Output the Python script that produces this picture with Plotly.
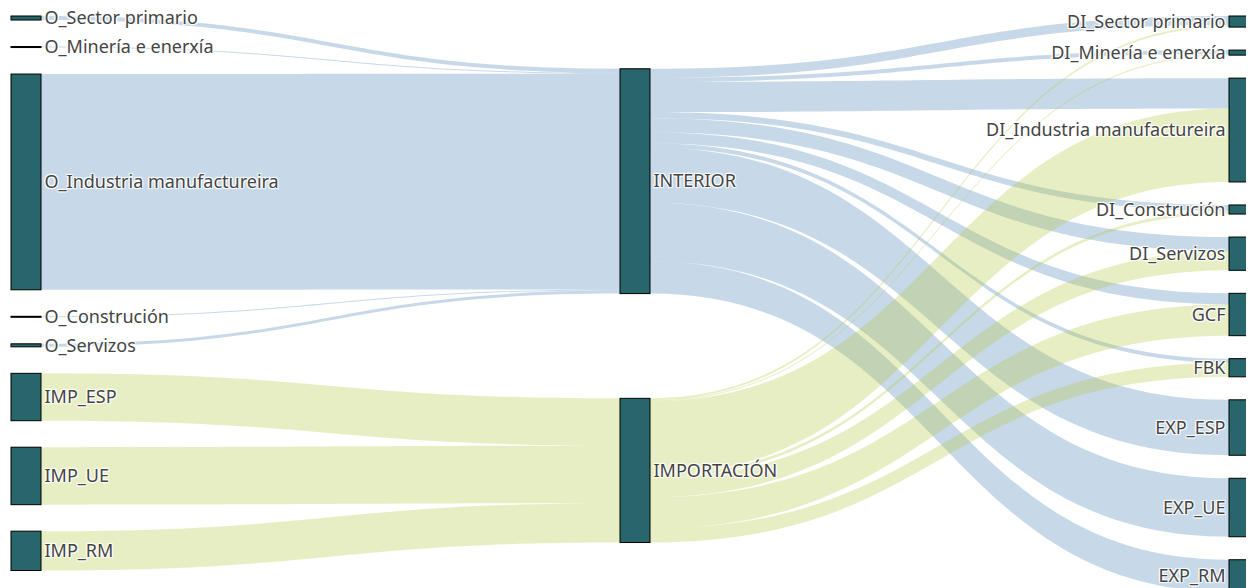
import plotly.graph_objects as go

# ---------------- data ----------------
origin_nodes = ["O_Sector primario", "O_Minería e enerxía", "O_Industria manufactureira",
                "O_Construción", "O_Servizos"]
origin_values = [4, 1, 214, 1, 3]          # -> INTERIOR

import_nodes = ["IMP_ESP", "IMP_UE", "IMP_RM"]
import_values = [47, 57, 39]               # -> IMPORTACIÓN

mid_nodes = ["INTERIOR", "IMPORTACIÓN"]

dest_nodes = ["DI_Sector primario", "DI_Minería e enerxía", "DI_Industria manufactureira",
              "DI_Construción", "DI_Servizos", "GCF", "FBK", "EXP_ESP", "EXP_UE", "EXP_RM"]
interior_values = [9, 4, 30, 6, 14, 11, 4, 55, 58, 32]
importacion_values = [2, 1, 73, 3, 19, 31, 14, 0, 0, 0]

# ---------------- style / geometry ----------------
FIG_W, FIG_H = 1261, 594
M = dict(l=3, r=10, t=8, b=10)
THICK = 30
PAD = 23
LEFT_GAP = 26.5      # vertical gap between nodes of the first column (px)
blue_link = "rgba(70,130,180,0.3)"
green_link = "rgba(180,200,60,0.3)"
node_color = "#27666b"

W = FIG_W - M["l"] - M["r"]
H = FIG_H - M["t"] - M["b"]

node_labels = origin_nodes + import_nodes + mid_nodes + dest_nodes
idx = {n: i for i, n in enumerate(node_labels)}

src, tgt, val, col = [], [], [], []
for n, v in zip(origin_nodes, origin_values):
    src.append(idx[n]); tgt.append(idx["INTERIOR"]); val.append(v); col.append(blue_link)
for n, v in zip(import_nodes, import_values):
    src.append(idx[n]); tgt.append(idx["IMPORTACIÓN"]); val.append(v); col.append(green_link)
for n, v in zip(dest_nodes, interior_values):
    if v > 0:
        src.append(idx["INTERIOR"]); tgt.append(idx[n]); val.append(v); col.append(blue_link)
for n, v in zip(dest_nodes, importacion_values):
    if v > 0:
        src.append(idx["IMPORTACIÓN"]); tgt.append(idx[n]); val.append(v); col.append(green_link)

# node totals
tot_in = [0.0] * len(node_labels)
tot_out = [0.0] * len(node_labels)
for s, t, v in zip(src, tgt, val):
    tot_out[s] += v
    tot_in[t] += v
node_val = [max(a, b) for a, b in zip(tot_in, tot_out)]

columns = [origin_nodes + import_nodes, mid_nodes, dest_nodes]
# pixels per unit, same rule as the sankey engine
ky = min((H - (len(c) - 1) * PAD) / sum(node_val[idx[n]] for n in c) for c in columns)

centers = {}
# first column: stacked from the top
y = 0.0
for n in columns[0]:
    h = node_val[idx[n]] * ky
    centers[n] = y + h / 2
    y += h + LEFT_GAP
# last column: spread over the whole height
last = columns[2]
tot_h = sum(node_val[idx[n]] * ky for n in last)
gap = (H - tot_h) / (len(last) - 1)
y = 0.0
for n in last:
    h = node_val[idx[n]] * ky
    centers[n] = y + h / 2
    y += h + gap
# middle column: value-weighted centre of its sources
for m in columns[1]:
    num = den = 0.0
    for s, t, v in zip(src, tgt, val):
        if t == idx[m]:
            num += centers[node_labels[s]] * v
            den += v
    centers[m] = num / den

node_x, node_y = [], []
for n in node_labels:
    c = 0 if n in columns[0] else (1 if n in columns[1] else 2)
    xc = (c * (W - THICK) / 2 + THICK / 2) / W
    node_x.append(xc)
    node_y.append(centers[n] / H)

fig = go.Figure(go.Sankey(
    arrangement="fixed",
    node=dict(
        label=node_labels,
        x=node_x,
        y=node_y,
        color=node_color,
        thickness=THICK,
        pad=PAD,
        line=dict(color="black", width=1),
    ),
    link=dict(source=src, target=tgt, value=val, color=col),
    textfont=dict(family="Noto Sans", size=18, color="#444"),
))

fig.update_layout(
    width=FIG_W,
    height=FIG_H,
    margin=M,
    paper_bgcolor="white",
    font=dict(family="Noto Sans", size=18, color="#444"),
)

fig.write_html("out.html")
